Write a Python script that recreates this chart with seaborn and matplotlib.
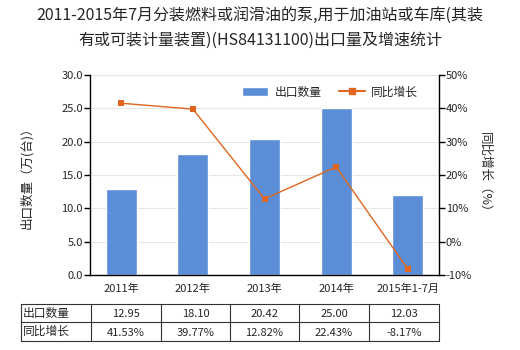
import matplotlib
matplotlib.use("Agg")
import matplotlib.pyplot as plt
import seaborn as sns
import pandas as pd
import numpy as np
from matplotlib.lines import Line2D
from matplotlib.patches import Patch

categories = ["2011年", "2012年", "2013年", "2014年", "2015年1-7月"]
export_qty = [12.95, 18.10, 20.42, 25.00, 12.03]
growth = [41.53, 39.77, 12.82, 22.43, -8.17]
qty_labels = ["12.95", "18.10", "20.42", "25.00", "12.03"]
growth_labels = ["41.53%", "39.77%", "12.82%", "22.43%", "-8.17%"]
left_ticks = [0, 5, 10, 15, 20, 25, 30]
right_ticks = [-10, 0, 10, 20, 30, 40, 50]

sns.set_theme(style="white")
plt.rcParams['font.family'] = ['Noto Sans CJK SC', 'DejaVu Sans']

bar_color = "#5B8ED6"
line_color = "#E0661F"

fig = plt.figure(figsize=(5.2, 3.5), dpi=100)
W, H = 520, 350
ax = fig.add_axes([90 / W, 1 - 275 / H, (439 - 90) / W, 200 / H])

df = pd.DataFrame({"cat": categories, "qty": export_qty, "growth": growth})
sns.barplot(data=df, x="cat", y="qty", color=bar_color, width=0.43, ax=ax, saturation=1)
ax.set_ylim(0, 30)
ax.set_yticks(left_ticks)
ax.set_yticklabels([f"{v:.1f}" for v in left_ticks], fontsize=8)
ax.yaxis.grid(True, color="#E6E6E6", linewidth=0.8)
ax.set_axisbelow(True)
ax.set_xlabel("")
ax.set_ylabel("出口数量（万(台)）", fontsize=9, labelpad=20)
ax.tick_params(axis="x", labelsize=8, length=0, pad=6)
ax.tick_params(axis="y", length=4, width=1, color="black", direction="out", left=True, pad=1)
for s in ["top", "right"]:
    ax.spines[s].set_visible(False)
for s in ["left", "bottom"]:
    ax.spines[s].set_color("black")
    ax.spines[s].set_linewidth(1)

ax2 = ax.twinx()
sns.lineplot(data=df, x="cat", y="growth", color=line_color, marker="s", markersize=4,
             markeredgewidth=0, linewidth=1, ax=ax2)
ax2.set_ylim(-10, 50)
ax2.set_yticks(right_ticks)
ax2.set_yticklabels([f"{v}%" for v in right_ticks], fontsize=8)
ax2.set_ylabel("同比增长（%）", fontsize=9, rotation=-90, labelpad=14)
ax2.tick_params(axis="y", length=4, width=1, color="black", direction="out", right=True, pad=1)
for s in ["top", "left", "bottom"]:
    ax2.spines[s].set_visible(False)
ax2.spines["right"].set_color("black")
ax2.spines["right"].set_linewidth(1)
ax2.grid(False)

handles = [Patch(facecolor=bar_color, label="出口数量"),
           Line2D([0], [0], color=line_color, marker="s", markersize=4, lw=1.5, label="同比增长")]
ax.legend(handles=handles, loc="upper right", bbox_to_anchor=(0.97, 1.0), ncol=2, frameon=False,
          fontsize=8.5, handlelength=2.2, columnspacing=1.5, handletextpad=0.5)

fig.text(0.5, 1 - 15 / H, "2011-2015年7月分装燃料或润滑油的泵,用于加油站或车库(其装", ha="center", va="center", fontsize=11.5)
fig.text(0.5, 1 - 40 / H, "有或可装计量装置)(HS84131100)出口量及增速统计", ha="center", va="center", fontsize=11.5)

# table
tax = fig.add_axes([0, 0, 1, 1])
tax.set_xlim(0, W)
tax.set_ylim(H, 0)
tax.axis("off")
xs = [21, 91, 161, 230, 299, 369, 439]
ys = [304, 322, 341]
for x in xs:
    tax.plot([x, x], [ys[0], ys[-1]], color="#333333", lw=0.8)
for y in ys:
    tax.plot([xs[0], xs[-1]], [y, y], color="#333333", lw=0.8)
rows = [("出口数量", qty_labels), ("同比增长", growth_labels)]
for r, (name, vals) in enumerate(rows):
    yc = (ys[r] + ys[r + 1]) / 2
    tax.text(xs[0] + 2, yc, name, ha="left", va="center", fontsize=8.5)
    for i, v in enumerate(vals):
        tax.text((xs[i + 1] + xs[i + 2]) / 2, yc + 1, v, ha="center", va="center", fontsize=8)

fig.savefig("out.png", dpi=100)
